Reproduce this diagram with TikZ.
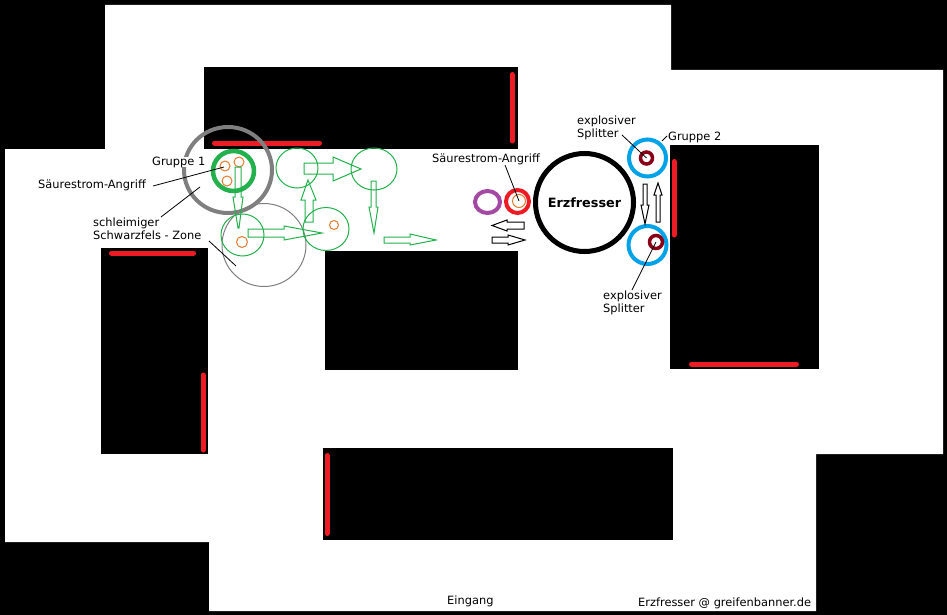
\documentclass[tikz,border=0pt]{standalone}
\usepackage{fontspec}
\setmainfont{DejaVu Sans}
\usetikzlibrary{positioning, shapes.geometric, arrows.meta}
\definecolor{gruen}{HTML}{22B14C}
\definecolor{grau}{HTML}{7F7F7F}
\definecolor{rot}{HTML}{ED1C24}
\definecolor{blau}{HTML}{00A2E8}
\definecolor{lila}{HTML}{A349A4}
\definecolor{dunkelrot}{HTML}{880015}
\definecolor{orange}{HTML}{E07B30}
\tikzset{
    block/.style={fill=black, draw=none},
    wand/.style={draw=rot, line width=5pt, line cap=round},
    ring/.style={draw, ellipse, inner sep=0pt, outer sep=0pt, fill=none},
    label/.style={text=black, inner sep=0pt, align=left, font=\fontsize{11.4}{13}\selectfont},
    leader/.style={draw=black, line width=0.8pt},
    greenarrow/.style={draw=gruen, line width=1pt, fill=none},
    whitearrow/.style={draw=black, line width=1pt, fill=white},
}
\begin{document}
\begin{tikzpicture}[x=1pt, y=-1pt]
            \fill[black] (0, 0) rectangle (947, 615);
            \useasboundingbox (0, 0) rectangle (947, 615);

            \fill[white] (105, 5) -- (671, 5) -- (671, 70) -- (943, 70) -- (943, 454) -- (816, 454)
                -- (816, 611) -- (209, 611) -- (209, 542) -- (5, 542) -- (5, 149) -- (105, 149) -- cycle;
            \path[block] (204, 67) rectangle (518, 149);
            \path[block] (325, 251) rectangle (518, 370);
            \path[block] (101, 248) rectangle (208, 454);
            \path[block] (670, 145) rectangle (819, 369);
            \path[block] (323, 448) rectangle (673, 540);

            \coordinate (wall1a) at (214.5, 143);
            \coordinate (wall1b) at (319.5, 143);
            \coordinate (wall2a) at (512, 74.5);
            \coordinate (wall2b) at (512, 141);
            \coordinate (wall3a) at (111.5, 253);
            \coordinate (wall3b) at (193.5, 253);
            \coordinate (wall4a) at (203, 375);
            \coordinate (wall4b) at (203, 450);
            \coordinate (wall5a) at (674, 161.5);
            \coordinate (wall5b) at (674, 235);
            \coordinate (wall6a) at (691.5, 364);
            \coordinate (wall6b) at (796.5, 364);
            \coordinate (wall7a) at (327, 455.5);
            \coordinate (wall7b) at (327, 533.5);
            \draw[wand] (wall1a) -- (wall1b);
            \draw[wand] (wall2a) -- (wall2b);
            \draw[wand] (wall3a) -- (wall3b);
            \draw[wand] (wall4a) -- (wall4b);
            \draw[wand] (wall5a) -- (wall5b);
            \draw[wand] (wall6a) -- (wall6b);
            \draw[wand] (wall7a) -- (wall7b);

            \node[ring, draw=grau, line width=1pt, minimum width=84pt, minimum height=83pt] (zone) at (264, 245) {};
            \node[ring, draw=grau, line width=4pt, minimum width=88pt, minimum height=86pt] (gruppe1zone) at (228, 170) {};
            \node[ring, draw=gruen, line width=4.5pt, minimum width=41pt, minimum height=40pt] (gruppe1) at (233.5, 171) {};
            \node[ring, draw=gruen, line width=1pt, minimum width=42pt, minimum height=40pt] (pos1) at (297, 168) {};
            \node[ring, draw=gruen, line width=1pt, minimum width=46pt, minimum height=42pt] (pos2) at (374, 169) {};
            \node[ring, draw=gruen, line width=1pt, minimum width=46pt, minimum height=43pt] (pos3) at (326, 229) {};
            \node[ring, draw=gruen, line width=1pt, minimum width=43pt, minimum height=42pt] (pos4) at (242.5, 235) {};
            \node[ring, draw=orange, line width=1pt, minimum size=10pt] (acid1) at (225, 166) {};
            \node[ring, draw=orange, line width=1pt, minimum size=10pt] (acid2) at (239, 162) {};
            \node[ring, draw=orange, line width=1pt, minimum size=10pt] (acid3) at (227, 181) {};
            \node[ring, draw=orange, line width=1pt, minimum size=11pt] (acid4) at (242, 242) {};
            \node[ring, draw=orange, line width=1pt, minimum size=9pt] (acid5) at (334, 225) {};

            \draw[greenarrow] (235, 167) -- (241, 167) -- (241, 197) -- (243, 197) -- (239, 228) -- (238, 228) -- (233, 197) -- (235, 197) -- cycle;
            \draw[greenarrow] (248, 229) -- (284, 229) -- (284, 226) -- (322, 233) -- (284, 240) -- (284, 237) -- (248, 237) -- cycle;
            \draw[greenarrow] (305, 222) -- (305, 200) -- (301, 200) -- (308, 180) -- (316, 200) -- (313, 200) -- (313, 222) -- cycle;
            \draw[greenarrow] (304, 163) -- (333, 163) -- (333, 157) -- (361, 169) -- (333, 181) -- (333, 174) -- (304, 174) -- cycle;
            \draw[greenarrow] (371, 181) -- (376, 181) -- (376, 207) -- (378, 207) -- (374, 233) -- (369, 207) -- (371, 207) -- cycle;
            \draw[greenarrow] (384, 237) -- (410, 237) -- (410, 234) -- (436, 240) -- (410, 245) -- (410, 243) -- (384, 243) -- cycle;

            \node[draw=black, circle, inner sep=0pt, outer sep=0pt, line width=5pt, minimum size=98pt, font=\bfseries\fontsize{12.8}{14}\selectfont] (erzfresser) at (584.5, 202.5) {Erzfresser};
            \node[ring, draw=lila, line width=4pt, minimum width=25pt, minimum height=22pt] (tank) at (487.5, 202) {};
            \node[ring, draw=rot, line width=4pt, minimum width=23pt, minimum height=23pt] (tank2) at (517.5, 201.5) {};
            \node[ring, draw=orange, line width=1pt, minimum size=13pt] (acid6) at (519, 201) {};
            \node[ring, draw=blau, line width=4pt, minimum size=37pt] (gruppe2a) at (647.5, 158) {};
            \node[ring, draw=blau, line width=4pt, minimum size=38pt] (gruppe2b) at (647.5, 245) {};
            \node[ring, draw=dunkelrot, line width=3.5pt, minimum size=12pt] (splitter1) at (646.5, 158) {};
            \node[ring, draw=dunkelrot, line width=3.5pt, minimum size=13pt] (splitter2) at (656, 242) {};

            \draw[whitearrow] (524, 222) -- (507, 222) -- (507, 220) -- (492, 225.5) -- (507, 231) -- (507, 229) -- (524, 229) -- cycle;
            \draw[whitearrow] (492, 237) -- (508, 237) -- (508, 235) -- (525, 240) -- (508, 245) -- (508, 243) -- (492, 243) -- cycle;
            \draw[whitearrow] (643, 184) -- (647, 184) -- (647, 205) -- (649, 205) -- (645, 224) -- (641, 205) -- (643, 205) -- cycle;
            \draw[whitearrow] (656, 222) -- (656, 195) -- (654, 195) -- (658, 183) -- (662, 195) -- (660, 195) -- (660, 222) -- cycle;

            \node[label, fill=white, anchor=west] (lgruppe1) at (152, 162) {Gruppe 1};
            \node[label, anchor=west] (lacid1) at (38, 185) {Säurestrom-Angriff};
            \node[label, anchor=north west] (lzone) at (93, 218) {schleimiger\\Schwarzfels - Zone};
            \node[label, anchor=west] (lacid2) at (432, 159) {Säurestrom-Angriff};
            \node[label, anchor=north west] (lsplitter1) at (577, 116) {explosiver\\Splitter};
            \node[label, anchor=west] (lgruppe2) at (668, 137) {Gruppe 2};
            \node[label, anchor=north west] (lsplitter2) at (603, 291) {explosiver\\Splitter};
            \node[label, anchor=west] (eingang) at (447, 601) {Eingang};
            \node[label, anchor=west] (credit) at (638, 603) {Erzfresser @ greifenbanner.de};

            \coordinate (acid1end) at (224, 167);
            \coordinate (zoneend1) at (200, 187);
            \coordinate (zonestart1) at (161, 217);
            \coordinate (zonestart2) at (209, 241);
            \coordinate (zoneend2) at (236, 266);
            \coordinate (acid1start) at (153, 186);
            \coordinate (acid2start) at (505, 165);
            \coordinate (splitter1start) at (622, 135);
            \coordinate (gruppe2start) at (662, 141);
            \coordinate (gruppe2end) at (667, 136);
            \coordinate (splitter2start) at (632, 290);
            \draw[leader] (acid1start) -- (acid1end);
            \draw[leader] (zonestart1) -- (zoneend1);
            \draw[leader] (zonestart2) -- (zoneend2);
            \draw[leader] (acid2start) -- (acid6.center);
            \draw[leader] (splitter1start) -- (splitter1.center);
            \draw[leader] (gruppe2start) -- (gruppe2end);
            \draw[leader] (splitter2start) -- (splitter2.center);
        \end{tikzpicture}
\end{document}
